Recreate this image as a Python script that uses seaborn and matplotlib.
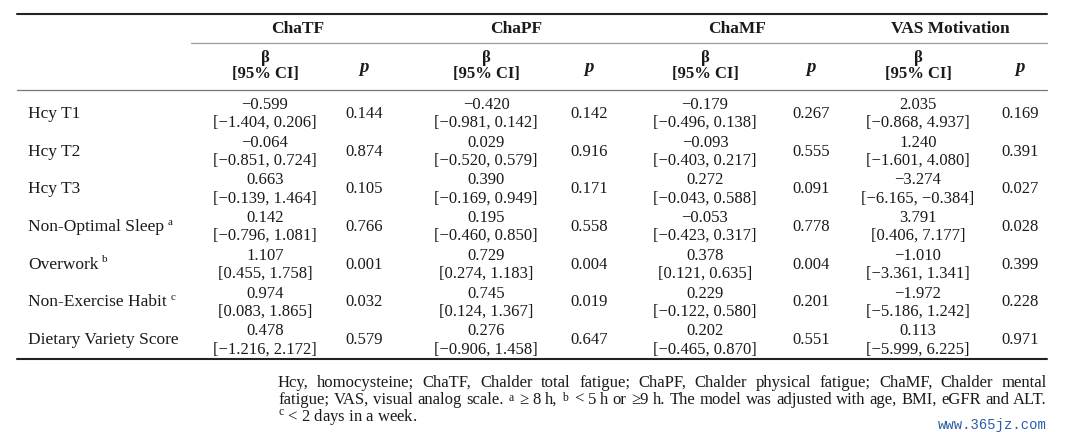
import matplotlib
matplotlib.use('Agg')
import matplotlib.pyplot as plt
import seaborn as sns

# --- datos de la tabla ---
variables = ['Hcy T1', 'Hcy T2', 'Hcy T3', 'Non-Optimal Sleep', 'Overwork',
             'Non-Exercise Habit', 'Dietary Variety Score']
var_marks = ['', '', '', 'a', 'b', 'c', '']
outcomes = ['ChaTF', 'ChaPF', 'ChaMF', 'VAS Motivation']

chatf_beta = [-0.599, -0.064, 0.663, 0.142, 1.107, 0.974, 0.478]
chatf_lo = [-1.404, -0.851, -0.139, -0.796, 0.455, 0.083, -1.216]
chatf_hi = [0.206, 0.724, 1.464, 1.081, 1.758, 1.865, 2.172]
chatf_p = [0.144, 0.874, 0.105, 0.766, 0.001, 0.032, 0.579]

chapf_beta = [-0.420, 0.029, 0.390, 0.195, 0.729, 0.745, 0.276]
chapf_lo = [-0.981, -0.520, -0.169, -0.460, 0.274, 0.124, -0.906]
chapf_hi = [0.142, 0.579, 0.949, 0.850, 1.183, 1.367, 1.458]
chapf_p = [0.142, 0.916, 0.171, 0.558, 0.004, 0.019, 0.647]

chamf_beta = [-0.179, -0.093, 0.272, -0.053, 0.378, 0.229, 0.202]
chamf_lo = [-0.496, -0.403, -0.043, -0.423, 0.121, -0.122, -0.465]
chamf_hi = [0.138, 0.217, 0.588, 0.317, 0.635, 0.580, 0.870]
chamf_p = [0.267, 0.555, 0.091, 0.778, 0.004, 0.201, 0.551]

vas_beta = [2.035, 1.240, -3.274, 3.791, -1.010, -1.972, 0.113]
vas_lo = [-0.868, -1.601, -6.165, 0.406, -3.361, -5.186, -5.999]
vas_hi = [4.937, 4.080, -0.384, 7.177, 1.341, 1.242, 6.225]
vas_p = [0.169, 0.391, 0.027, 0.028, 0.399, 0.228, 0.971]

footnote_lines = [
    'Hcy, homocysteine; ChaTF, Chalder total fatigue; ChaPF, Chalder physical fatigue; ChaMF, Chalder mental',
    r'fatigue; VAS, visual analog scale. $^{\mathrm{a}}$ ≥ 8 h, $^{\mathrm{b}}$ < 5 h or ≥9 h. The model was adjusted with age, BMI, eGFR and ALT.',
    r'$^{\mathrm{c}}$ < 2 days in a week.',
]

sns.set_theme(style='white')
plt.rcParams['font.family'] = ['Liberation Serif', 'DejaVu Serif']
plt.rcParams['mathtext.fontset'] = 'custom'
plt.rcParams['mathtext.rm'] = 'Liberation Serif'
plt.rcParams['mathtext.it'] = 'Liberation Serif:italic'
plt.rcParams['mathtext.bf'] = 'Liberation Serif:bold'

FS = 12
TXT = '#1a1a1a'

fig = plt.figure(figsize=(10.8, 4.32), dpi=100)
ax = fig.add_axes([0, 0, 1, 1])
ax.set_xlim(0, 1080)
ax.set_ylim(432, 0)
ax.axis('off')
renderer = fig.canvas.get_renderer()


def fmt(v):
    return f'{v:.3f}'.replace('-', '\u2212')


def width_of(t):
    return t.get_window_extent(renderer).width


# --- reglas horizontales ---
X0, X1 = 17, 1047
ax.plot([X0, X1], [14, 14], color='#222', lw=1.5)
ax.plot([191, X1], [43, 43], color='#9a9a9a', lw=0.9)
ax.plot([X0, X1], [90, 90], color='#777', lw=0.9)
ax.plot([X0, X1], [359, 359], color='#222', lw=1.5)

head_x = [298, 516, 737, 950]
beta_x = [265, 486, 705, 918]
p_x = [364, 589, 811, 1020]

# --- encabezados ---
for name, hx in zip(outcomes, head_x):
    ax.text(hx, 29, name, ha='center', va='center', fontsize=FS + 0.5, fontweight='bold', color=TXT)
for bx in beta_x:
    ax.text(bx, 58, '\u03b2', ha='center', va='center', fontsize=FS, fontweight='bold', color=TXT)
    ax.text(bx, 74, '[95% CI]', ha='center', va='center', fontsize=FS, fontweight='bold', color=TXT)
for px in p_x:
    ax.text(px, 68, 'p', ha='center', va='center', fontsize=FS + 1.5, fontweight='bold',
            fontstyle='italic', color=TXT)

# --- filas ---
series = [
    (chatf_beta, chatf_lo, chatf_hi, chatf_p),
    (chapf_beta, chapf_lo, chapf_hi, chapf_p),
    (chamf_beta, chamf_lo, chamf_hi, chamf_p),
    (vas_beta, vas_lo, vas_hi, vas_p),
]
row_y = [114 + 37.7 * i for i in range(len(variables))]

for i, (var, mark) in enumerate(zip(variables, var_marks)):
    y = row_y[i]
    t = ax.text(28, y, var, ha='left', va='center', fontsize=FS + 0.5, color=TXT)
    if mark:
        w = width_of(t)
        ax.text(28 + w + 4, y - 5, mark, ha='left', va='center', fontsize=FS - 4, color=TXT)
    for (b, lo, hi, p), bx, px in zip(series, beta_x, p_x):
        ax.text(bx, y - 9, fmt(b[i]), ha='center', va='center', fontsize=FS, color=TXT)
        ax.text(bx, y + 9, f'[{fmt(lo[i])}, {fmt(hi[i])}]', ha='center', va='center',
                fontsize=FS, color=TXT)
        ax.text(px, y, fmt(p[i]), ha='center', va='center', fontsize=FS, color=TXT)

# --- nota al pie (justificada) ---
FFS = 12
foot_y = [383, 400, 417]
fx0, fx1 = 278, X1
for k, (line, y) in enumerate(zip(footnote_lines, foot_y)):
    if k == len(footnote_lines) - 1:
        ax.text(fx0, y, line, ha='left', va='center', fontsize=FFS, color=TXT)
        continue
    words = line.split(' ')
    objs = [ax.text(0, y, w, ha='left', va='center', fontsize=FFS, color=TXT) for w in words]
    widths = [width_of(o) for o in objs]
    gap = (fx1 - fx0 - sum(widths)) / (len(words) - 1)
    x = fx0
    for o, w in zip(objs, widths):
        o.set_x(x)
        x += w + gap

ax.text(X1, 425, 'www.365jz.com', ha='right', va='center', fontsize=10,
        family='Liberation Mono', color='#2b5ca8')

fig.savefig('out.png', dpi=100)
